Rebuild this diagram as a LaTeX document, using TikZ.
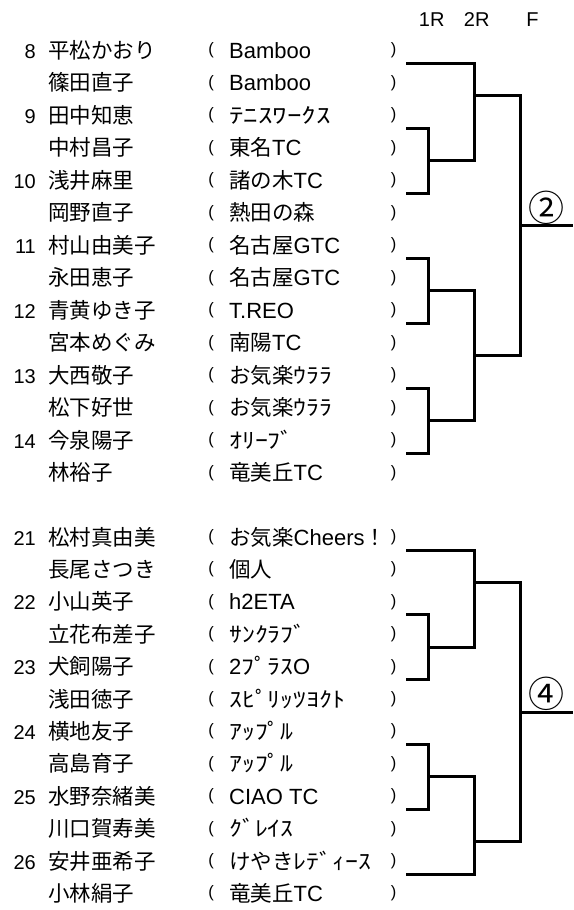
\documentclass[tikz,border=0pt]{standalone}
\usepackage{fontspec}
\setmainfont{Liberation Sans}
\newfontfamily\jp{Noto Sans CJK JP}
\begin{document}
\begin{tikzpicture}[x=1pt,y=-1pt,
  numtxt/.style={anchor=base east,inner sep=0pt,font=\fontsize{20}{22}\selectfont},
  nametxt/.style={anchor=base west,inner sep=0pt,font=\fontsize{21.5}{24}\selectfont\jp},
  clubtxt/.style={anchor=base west,inner sep=0pt,font=\fontsize{22}{24}\selectfont},
  paren/.style={anchor=base,inner sep=0pt,font=\fontsize{16.5}{20}\selectfont},
  hdr/.style={anchor=base,inner sep=0pt,font=\fontsize{20}{22}\selectfont},
  circnum/.style={anchor=center,inner sep=0pt,font=\fontsize{36}{38}\selectfont\jp},
  br/.style={line width=3pt,line join=miter,line cap=butt}]
\newcommand\J[1]{{\fontsize{21.5}{24}\selectfont\jp #1}}
\newcommand\HK[2][1.2]{\scalebox{#1}[1]{\fontsize{21.5}{24}\selectfont\jp #2}}
\newcommand\plrow[7]{%
  \node[numtxt] (#1n#2) at (36,{#3+(#2-1)*#4}) {#5};
  \node[nametxt] (#1m#2) at (48,{#3+(#2-1)*#4}) {#6};
  \node[paren] (#1l#2) at (211,{#3+(#2-1)*#4-3.5}) {(};
  \node[clubtxt] (#1c#2) at (229,{#3+(#2-1)*#4}) {#7};
  \node[paren] (#1r#2) at (393.5,{#3+(#2-1)*#4-3.5}) {)};
}
\fill[white] (0,0) rectangle (573,910);
\useasboundingbox (0,0) rectangle (573,910);

% header
\node[hdr] (h1) at (431.7,26.7) {1R};
\node[hdr] (h2) at (476.7,26.7) {2R};
\node[hdr] (h3) at (532.5,26.7) {F};

% top block
\plrow{t}{1}{58.4}{32.5}{8}{平松かおり}{Bamboo}
\plrow{t}{2}{58.4}{32.5}{}{篠田直子}{Bamboo}
\plrow{t}{3}{58.4}{32.5}{9}{田中知恵}{\HK[1.35]{ﾃﾆｽﾜｰｸｽ}}
\plrow{t}{4}{58.4}{32.5}{}{中村昌子}{\J{東名}TC}
\plrow{t}{5}{58.4}{32.5}{10}{浅井麻里}{\J{諸の木}TC}
\plrow{t}{6}{58.4}{32.5}{}{岡野直子}{\J{熱田の森}}
\plrow{t}{7}{58.4}{32.5}{11}{村山由美子}{\J{名古屋}GTC}
\plrow{t}{8}{58.4}{32.5}{}{永田恵子}{\J{名古屋}GTC}
\plrow{t}{9}{58.4}{32.5}{12}{青黄ゆき子}{T.REO}
\plrow{t}{10}{58.4}{32.5}{}{宮本めぐみ}{\J{南陽}TC}
\plrow{t}{11}{58.4}{32.5}{13}{大西敬子}{\J{お気楽}\HK{ｳﾗﾗ}}
\plrow{t}{12}{58.4}{32.5}{}{松下好世}{\J{お気楽}\HK{ｳﾗﾗ}}
\plrow{t}{13}{58.4}{32.5}{14}{今泉陽子}{\HK{ｵﾘｰﾌﾞ}}
\plrow{t}{14}{58.4}{32.5}{}{林裕子}{\J{竜美丘}TC}

% bottom block
\plrow{u}{1}{545}{32.4}{21}{松村真由美}{\J{お気楽}Cheers\J{！}}
\plrow{u}{2}{545}{32.4}{}{長尾さつき}{\J{個人}}
\plrow{u}{3}{545}{32.4}{22}{小山英子}{h2ETA}
\plrow{u}{4}{545}{32.4}{}{立花布差子}{\HK{ｻﾝｸﾗﾌﾞ}}
\plrow{u}{5}{545}{32.4}{23}{犬飼陽子}{2\HK{ﾌﾟﾗｽ}O}
\plrow{u}{6}{545}{32.4}{}{浅田徳子}{\HK{ｽﾋﾟﾘｯﾂﾖｸﾄ}}
\plrow{u}{7}{545}{32.4}{24}{横地友子}{\HK{ｱｯﾌﾟﾙ}}
\plrow{u}{8}{545}{32.4}{}{高島育子}{\HK{ｱｯﾌﾟﾙ}}
\plrow{u}{9}{545}{32.4}{25}{水野奈緒美}{CIAO TC}
\plrow{u}{10}{545}{32.4}{}{川口賀寿美}{\HK{ｸﾞﾚｲｽ}}
\plrow{u}{11}{545}{32.4}{26}{安井亜希子}{\J{けやき}\HK{ﾚﾃﾞｨｰｽ}}
\plrow{u}{12}{545}{32.4}{}{小林絹子}{\J{竜美丘}TC}

% bracket coordinates
\foreach \k in {1,...,13}{
  \coordinate (tL\k) at (406,{63.4+(\k-1)*32.5});
  \coordinate (ta\k) at (428,{63.4+(\k-1)*32.5});
  \coordinate (tb\k) at (474,{63.4+(\k-1)*32.5});
  \coordinate (tc\k) at (520,{63.4+(\k-1)*32.5});
  \coordinate (te\k) at (573,{63.4+(\k-1)*32.5});
}
\foreach \k in {1,...,11}{
  \coordinate (uL\k) at (406,{550+(\k-1)*32.4});
  \coordinate (ua\k) at (428,{550+(\k-1)*32.4});
  \coordinate (ub\k) at (474,{550+(\k-1)*32.4});
  \coordinate (uc\k) at (520,{550+(\k-1)*32.4});
  \coordinate (ue\k) at (573,{550+(\k-1)*32.4});
}

% top bracket
\draw[br] (tL1) -- (tb1) -- (tb4) -- (ta4);
\draw[br] (tL3) -- (ta3) -- (ta5) -- (tL5);
\draw[br] (tL7) -- (ta7) -- (ta9) -- (tL9);
\draw[br] (ta8) -- (tb8) -- (tb12) -- (ta12);
\draw[br] (tL11) -- (ta11) -- (ta13) -- (tL13);
\draw[br] (tb2) -- (tc2) -- (tc10) -- (tb10);
\draw[br] (tc6) -- (te6);
\node[circnum] (w2) at (546,208) {②};

% bottom bracket
\draw[br] (uL1) -- (ub1) -- (ub4) -- (ua4);
\draw[br] (uL3) -- (ua3) -- (ua5) -- (uL5);
\draw[br] (uL7) -- (ua7) -- (ua9) -- (uL9);
\draw[br] (ua8) -- (ub8) -- (ub11) -- (uL11);
\draw[br] (ub2) -- (uc2) -- (uc10) -- (ub10);
\draw[br] (uc6) -- (ue6);
\node[circnum] (w4) at (546,693.5) {④};
\end{tikzpicture}
\end{document}
